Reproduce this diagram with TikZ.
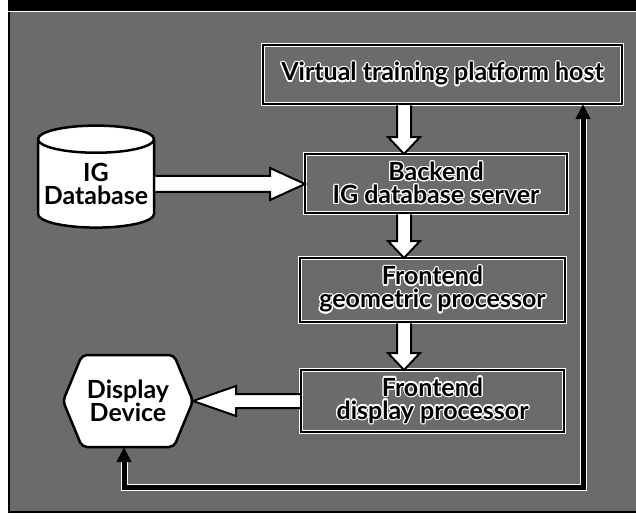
\documentclass[tikz,border=0pt]{standalone}
\usepackage{fontspec}
\setsansfont{Lato}
\usepackage{contour}
\contourlength{1.2pt}
\usetikzlibrary{arrows.meta, positioning, shapes.geometric, shapes.symbols, calc}
\definecolor{scangray}{gray}{0.42}
\newcommand{\halo}[1]{\contour{white}{#1}}

\begin{document}
\begin{tikzpicture}[
        x=1pt, y=-1pt,
        every node/.style={font=\sffamily\bfseries\fontsize{25}{23}\selectfont, align=center, inner sep=0pt, outer sep=0pt, text=black},
        stage/.style={draw, line width=2.5pt, preaction={draw=white, line width=4.5pt}, minimum height=59pt},
        hollow/.style={draw, fill=white, line width=2pt, line join=miter},
        loopline/.style={line width=5pt, {Triangle[length=15pt, width=14pt]}-{Triangle[length=15pt, width=14pt]},
            preaction={draw=white, line width=7pt, -, shorten <=15pt, shorten >=15pt}},
    ]

    \useasboundingbox (0,0) rectangle (636,519);

    %% Scanned page background
    \fill[white] (0,0) rectangle (636,519);
    \fill[black] (8,0) rectangle (636,11);
    \fill[scangray] (9,12) rectangle (636,512);
    \draw[line width=2pt] (9,12) -- (9,512) -- (636,512);

    %% Pipeline stages
    \node[stage, minimum width=359pt] (host) at (442.5,74.5) {\halo{Virtual training platform host}};
    \node[stage, minimum width=262pt] (backend) at (436,183.5) {\halo{Backend}\\\halo{IG database server}};
    \node[stage, minimum width=265pt, minimum height=64pt] (geom) at (432.5,290) {\halo{Frontend}\\\halo{geometric processor}};
    \node[stage, minimum width=263pt, minimum height=62pt, below=48pt of geom] (dispproc) {\halo{Frontend}\\\halo{display processor}};

    %% Database and display
    \node[draw, fill=white, line width=2.5pt, cylinder, shape border rotate=90, aspect=0.26,
        minimum width=116pt, minimum height=102pt] (igdb) at (96,184) {IG\\Database};
    \node[draw, fill=white, line width=2.5pt, signal, signal to=west and east, signal pointer angle=135,
        rounded corners=5pt, minimum width=130pt, minimum height=92pt] (device) at (128,401) {Display\\Device};

    %% Hollow arrows down the pipeline
    \coordinate (spine) at (404,0);
    \foreach \a/\b in {host/backend, backend/geom, geom/dispproc} {
        \draw[hollow] let \p1=(\a.south -| spine), \p2=(\b.north -| spine) in
            (\x1-7pt,\y1-1.25pt) -- (\x1-7pt,\y2+17pt) -- (\x1-16pt,\y2+17pt) -- (\p2)
            -- (\x1+16pt,\y2+17pt) -- (\x1+7pt,\y2+17pt) -- (\x1+7pt,\y1-1.25pt);
    }

    %% Database feeds the backend
    \draw[hollow] let \p1=(igdb.east), \p2=(igdb.east -| backend.west) in
        (\x1+1.25pt,\y1+8pt) -- (\x2-35pt,\y1+8pt) -- (\x2-35pt,\y1+16pt) -- (\p2)
        -- (\x2-35pt,\y1-16pt) -- (\x2-35pt,\y1-8pt) -- (\x1+1.25pt,\y1-8pt);

    %% Display processor drives the device
    \draw[hollow] let \p1=(dispproc.west), \p2=(dispproc.west -| device.east) in
        (\x1-1.25pt,\y1+7pt) -- (\x2+43pt,\y1+7pt) -- (\x2+43pt,\y1+15pt) -- (\p2)
        -- (\x2+43pt,\y1-15pt) -- (\x2+43pt,\y1-7pt) -- (\x1-1.25pt,\y1-7pt);

    %% Feedback loop
    \coordinate (rail) at (583,487);
    \draw[loopline] ([xshift=-4pt]device.south) |- (rail) -- (rail |- host.south);

\end{tikzpicture}
\end{document}
